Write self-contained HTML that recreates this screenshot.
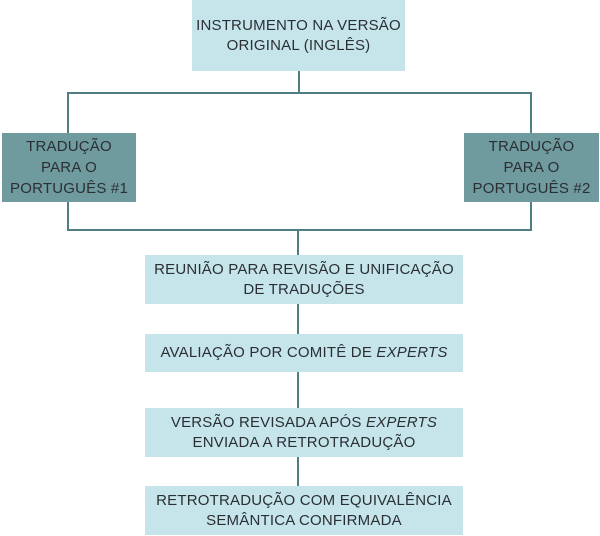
<!DOCTYPE html>
<html><head><meta charset="utf-8"><style>
body{margin:0;width:600px;height:536px;background:#fff;position:relative;overflow:hidden;font-family:"Liberation Sans",sans-serif;}
.b{position:absolute;display:flex;align-items:center;justify-content:center;text-align:center;color:#2a2f33;font-size:15px;line-height:20px;letter-spacing:0.2px;background:#c6e5eb;}
.b>div{display:block;}
.d{background:#6f9a9e;line-height:21px;}
.l{position:absolute;background:#4f7f82;}
</style></head><body>
<div class="l" style="left:298px;top:70px;width:2px;height:24px"></div>
<div class="l" style="left:67px;top:92px;width:465px;height:2px"></div>
<div class="l" style="left:67px;top:92px;width:2px;height:41px"></div>
<div class="l" style="left:530px;top:92px;width:2px;height:41px"></div>
<div class="l" style="left:67px;top:202px;width:2px;height:29px"></div>
<div class="l" style="left:530px;top:202px;width:2px;height:29px"></div>
<div class="l" style="left:67px;top:229px;width:465px;height:2px"></div>
<div class="l" style="left:297px;top:229px;width:2px;height:257px"></div>
<div class="b" style="left:192px;top:0;width:213px;height:71px"><div>INSTRUMENTO NA VERSÃO<br>ORIGINAL (INGLÊS)</div></div>
<div class="b d" style="left:2px;top:133px;width:134px;height:69px"><div>TRADUÇÃO<br>PARA O<br>PORTUGUÊS #1</div></div>
<div class="b d" style="left:464px;top:133px;width:135px;height:69px"><div>TRADUÇÃO<br>PARA O<br>PORTUGUÊS #2</div></div>
<div class="b" style="left:145px;top:255px;width:318px;height:49px"><div>REUNIÃO PARA REVISÃO E UNIFICAÇÃO<br>DE TRADUÇÕES</div></div>
<div class="b" style="left:145px;top:334px;width:318px;height:38px"><div>AVALIAÇÃO POR COMITÊ DE <i>EXPERTS</i></div></div>
<div class="b" style="left:145px;top:408px;width:318px;height:49px"><div>VERSÃO REVISADA APÓS <i>EXPERTS</i><br>ENVIADA A RETROTRADUÇÃO</div></div>
<div class="b" style="left:145px;top:486px;width:318px;height:49px"><div>RETROTRADUÇÃO COM EQUIVALÊNCIA<br>SEMÂNTICA CONFIRMADA</div></div>
</body></html>
